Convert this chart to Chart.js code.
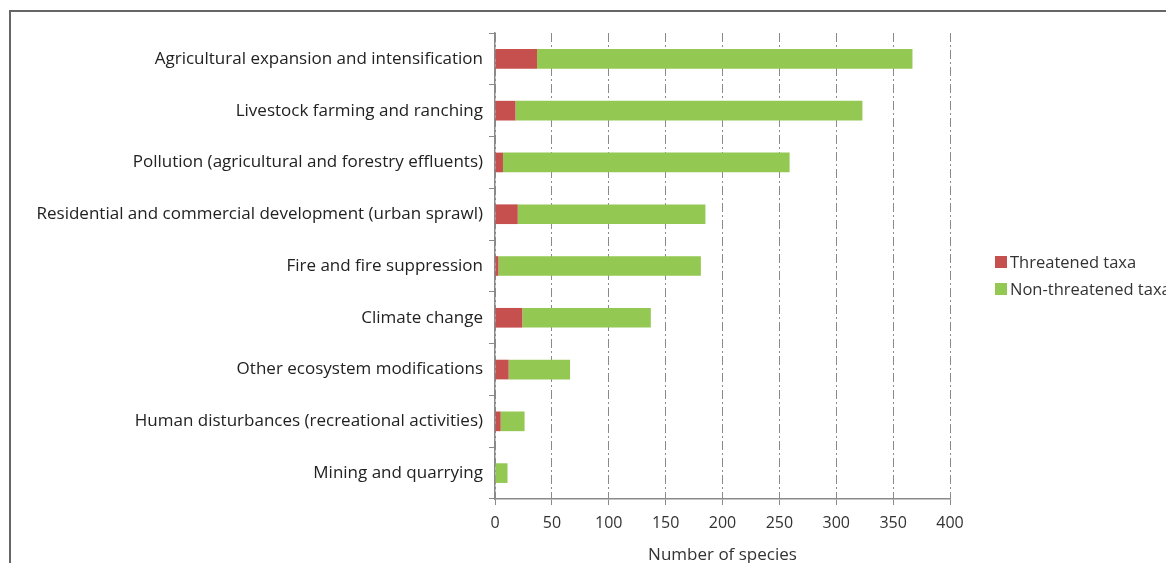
<!DOCTYPE html>
<html>
<head>
<meta charset="utf-8">
<script src="https://cdn.jsdelivr.net/npm/chart.js@4.4.0/dist/chart.umd.min.js"></script>
<style>
  html, body { margin: 0; padding: 0; background: #fff; overflow: hidden; }
  #wrap { position: relative; width: 1166px; height: 563px; }
  #frame { position: absolute; left: 9px; top: 10px; width: 1300px; height: 700px; border: 2px solid #666; }
  canvas { position: absolute; left: 0; top: 0; }
</style>
</head>
<body>
<div id="wrap">
  <div id="frame"></div>
  <canvas id="chart" width="1166" height="563"></canvas>
</div>
<script>
// threats to species, counts
var categories = [
  'Agricultural expansion and intensification',
  'Livestock farming and ranching',
  'Pollution (agricultural and forestry effluents)',
  'Residential and commercial development (urban sprawl)',
  'Fire and fire suppression',
  'Climate change',
  'Other ecosystem modifications',
  'Human disturbances (recreational activities)',
  'Mining and quarrying'
];
var threatened = [37, 18, 7, 20, 3, 24, 12, 5, 0];
var nonThreatened = [330, 305, 252, 165, 178, 113, 54, 21, 11];
var xTicks = [0, 50, 100, 150, 200, 250, 300, 350, 400];

var RED = '#c5504d';
var GREEN = '#93c952';
var FONT = '"Open Sans", sans-serif';

// legend sits to the right, drawn by hand so it lands where the original has it
var sideLegend = {
  id: 'sideLegend',
  afterDraw: function(chart) {
    var ctx = chart.ctx;
    ctx.save();
    ctx.font = '16.5px ' + FONT;
    ctx.textBaseline = 'middle';
    chart.data.datasets.forEach(function(ds, i) {
      var y = 262 + i * 27;
      ctx.fillStyle = ds.backgroundColor;
      ctx.fillRect(995, y - 6, 12, 12);
      ctx.fillStyle = '#333';
      ctx.fillText(ds.label, 1010, y + 1);
    });
    ctx.restore();
  }
};

new Chart(document.getElementById('chart'), {
  type: 'bar',
  data: {
    labels: categories,
    datasets: [
      { label: 'Threatened taxa', data: threatened, backgroundColor: RED, borderWidth: 0 },
      { label: 'Non-threatened taxa', data: nonThreatened, backgroundColor: GREEN, borderWidth: 0 }
    ]
  },
  options: {
    indexAxis: 'y',
    responsive: false,
    animation: false,
    layout: { padding: { top: 33, right: 216, left: 0, bottom: 0 } },
    datasets: { bar: { categoryPercentage: 1, barPercentage: 0.38 } },
    plugins: { legend: { display: false }, tooltip: { enabled: false } },
    scales: {
      x: {
        stacked: true,
        min: 0, max: 400,
        afterBuildTicks: function(scale) {
          scale.ticks = xTicks.map(function(v) { return { value: v }; });
        },
        afterFit: function(scale) { scale.height = 64; },
        grid: { color: '#8a8a8a', lineWidth: 1, tickLength: 6, tickColor: '#8a8a8a' },
        border: { display: true, color: '#8a8a8a', width: 1.5, dash: [9, 3, 2, 3] },
        ticks: { color: '#333', font: { family: FONT, size: 16 }, padding: 9 },
        title: { display: true, text: 'Number of species', color: '#333',
          font: { family: FONT, size: 17 }, padding: { top: 0, bottom: -2 } }
      },
      y: {
        stacked: true,
        afterFit: function(scale) { scale.width = 495; },
        grid: { drawOnChartArea: false, drawTicks: true, tickLength: 6, color: '#8a8a8a', offset: true },
        border: { display: true, color: '#8a8a8a', width: 1.5 },
        ticks: { color: '#222', font: { family: FONT, size: 17 }, padding: 6 }
      }
    }
  },
  plugins: [sideLegend]
});
</script>
</body>
</html>
